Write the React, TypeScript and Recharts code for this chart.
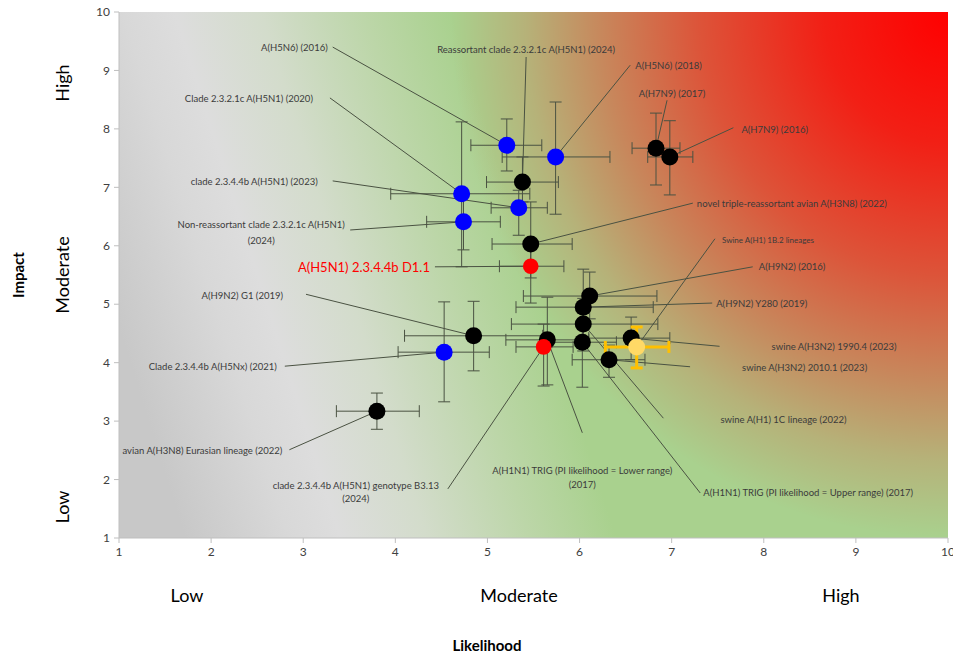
import React from "react";
import {
  Customized,
  ErrorBar,
  ReferenceArea,
  ReferenceLine,
  Scatter,
  ScatterChart,
  XAxis,
  YAxis,
} from "recharts";

const VIRUSES = [
  "A(H5N6) (2016)",
  "A(H5N6) (2018)",
  "Clade 2.3.2.1c A(H5N1) (2020)",
  "clade 2.3.4.4b A(H5N1) (2023)",
  "Clade 2.3.4.4b A(H5Nx) (2021)",
  "Non-reassortant clade 2.3.2.1c A(H5N1) (2024)",
  "Reassortant clade 2.3.2.1c A(H5N1) (2024)",
  "A(H7N9)  (2017)",
  "A(H7N9) (2016)",
  "novel triple-reassortant avian A(H3N8) (2022)",
  "A(H9N2) (2016)",
  "A(H9N2) Y280 (2019)",
  "swine A(H1) 1C lineage (2022)",
  "A(H1N1) TRIG (PI likelihood = Upper range) (2017)",
  "swine A(H3N2) 2010.1 (2023)",
  "swine A(H3N2) 1990.4 (2023)",
  "A(H1N1) TRIG (PI likelihood = Lower range) (2017)",
  "A(H9N2) G1 (2019)",
  "avian A(H3N8) Eurasian lineage (2022)",
  "A(H5N1) 2.3.4.4b D1.1",
  "clade 2.3.4.4b A(H5N1) genotype B3.13 (2024)",
  "Swine A(H1) 1B.2 lineages",
];

const GROUP = [
  "blue", "blue", "blue", "blue", "blue", "blue",
  "black", "black", "black", "black", "black", "black", "black", "black",
  "black", "black", "black", "black", "black",
  "red", "red", "yellow",
];

const LIKELIHOOD = [5.21, 5.74, 4.72, 5.34, 4.53, 4.74, 5.38, 6.83, 6.98, 5.47, 6.11, 6.04, 6.04, 6.03, 6.32, 6.56, 5.65, 4.85, 3.8, 5.47, 5.61, 6.62];
const LIKELIHOOD_LOW = [4.82, 5.16, 3.95, 5.04, 4.03, 4.34, 4.99, 6.57, 6.74, 5.05, 5.39, 5.31, 5.26, 5.7, 5.92, 6.1, 5.2, 4.1, 3.36, 5.13, 5.31, 6.28];
const LIKELIHOOD_HIGH = [5.59, 6.33, 5.46, 5.65, 5.02, 5.14, 5.77, 7.09, 7.23, 5.92, 6.84, 6.8, 6.85, 6.4, 6.71, 6.98, 6.1, 5.6, 4.26, 5.83, 5.93, 6.97];

const IMPACT = [7.72, 7.52, 6.89, 6.65, 4.18, 6.41, 7.09, 7.67, 7.52, 6.03, 5.14, 4.95, 4.66, 4.35, 4.05, 4.42, 4.39, 4.46, 3.17, 5.65, 4.27, 4.27];
const IMPACT_LOW = [7.28, 6.54, 5.64, 6.18, 3.33, 5.93, 6.75, 7.04, 6.87, 5.45, 4.75, 4.4, 4.2, 3.58, 3.75, 4.05, 3.62, 3.86, 2.86, 5.02, 3.6, 3.91];
const IMPACT_HIGH = [8.17, 8.46, 8.12, 6.95, 5.04, 6.9, 7.52, 8.27, 8.14, 6.75, 5.55, 5.6, 5.1, 4.9, 4.3, 4.78, 5.12, 5.05, 3.48, 6.0, 4.66, 4.61];

const TICKS = [1, 2, 3, 4, 5, 6, 7, 8, 9, 10];
const LEVELS = ["Low", "Moderate", "High"];

// where each leader line starts (chart units) and how its text sits
const LABEL_AT = [
  [3.32, 9.4], [6.55, 9.09], [3.29, 8.53], [3.32, 7.11], [2.8, 3.94], [3.51, 6.27],
  [5.42, 9.23], [6.95, 8.49], [7.67, 8.02], [7.23, 6.73], [7.88, 5.64], [7.44, 5.02],
  [6.91, 3.05], [7.31, 1.77], [7.2, 3.93], [7.52, 4.28], [6.03, 2.8], [3.03, 5.17],
  [2.85, 2.51], [4.43, 5.64], [4.57, 1.84], [7.47, 6.12],
];
const LABEL_STYLE: { anchor: string; dx: number; dy: number; lines?: string[]; size?: number; color?: string; gap?: number }[] = [
  { anchor: "end", dx: -5, dy: 0 },
  { anchor: "start", dx: 5, dy: 0 },
  { anchor: "end", dx: -17, dy: 1 },
  { anchor: "end", dx: -15, dy: 1 },
  { anchor: "end", dx: -8, dy: 0 },
  { anchor: "middle", dx: -89, dy: -5, lines: ["Non-reassortant clade 2.3.2.1c A(H5N1)", "(2024)"], gap: 16 },
  { anchor: "middle", dx: 0, dy: -8 },
  { anchor: "middle", dx: 5, dy: -7 },
  { anchor: "start", dx: 8, dy: 2 },
  { anchor: "start", dx: 4, dy: 0 },
  { anchor: "start", dx: 6, dy: 0 },
  { anchor: "start", dx: 4, dy: 0 },
  { anchor: "start", dx: 57, dy: 1 },
  { anchor: "start", dx: 3, dy: 0 },
  { anchor: "start", dx: 52, dy: 1 },
  { anchor: "start", dx: 52, dy: 0 },
  { anchor: "middle", dx: 0, dy: 38, lines: ["A(H1N1) TRIG (PI likelihood = Lower range)", "(2017)"], gap: 14 },
  { anchor: "end", dx: -23, dy: 1 },
  { anchor: "end", dx: -7, dy: 1 },
  { anchor: "end", dx: -5, dy: 0, size: 13, color: "#ff0000" },
  { anchor: "middle", dx: -92, dy: -3, lines: ["clade 2.3.4.4b A(H5N1) genotype B3.13", "(2024)"], gap: 13 },
  { anchor: "start", dx: 7, dy: 1, size: 8 },
];

const FILLS: Record<string, string> = {
  blue: "#0000ff",
  black: "#000000",
  red: "#ff0000",
  yellow: "#ffd966",
};

const points = VIRUSES.map((name, i) => ({
  name,
  group: GROUP[i],
  x: LIKELIHOOD[i],
  y: IMPACT[i],
  ex: [LIKELIHOOD[i] - LIKELIHOOD_LOW[i], LIKELIHOOD_HIGH[i] - LIKELIHOOD[i]],
  ey: [IMPACT[i] - IMPACT_LOW[i], IMPACT_HIGH[i] - IMPACT[i]],
}));

const labels = VIRUSES.map((name, i) => ({
  name,
  x: LABEL_AT[i][0],
  y: LABEL_AT[i][1],
  idx: i,
}));

const TEXT = "#3b3b3b";
const LEADER = "#4a5242";

function dotShape(props: any) {
  const { cx, cy, payload } = props;
  const r = payload.group === "red" ? 7.8 : 8.5;
  return <circle cx={cx} cy={cy} r={r} fill={FILLS[payload.group]} />;
}

function labelShape(props: any) {
  const { cx, cy, payload } = props;
  const s = LABEL_STYLE[payload.idx];
  const lines = s.lines || [payload.name];
  return (
    <text
      x={cx + s.dx}
      y={cy + s.dy}
      textAnchor={s.anchor}
      fontSize={s.size || 9.5}
      fill={s.color || TEXT}
    >
      {lines.map((l, k) => (
        <tspan key={k} x={cx + s.dx} y={cy + s.dy + k * (s.gap || 14)} dominantBaseline="central">
          {l}
        </tspan>
      ))}
    </text>
  );
}

function Extras() {
  return (
    <g>
      <text x={18} y={275} transform="rotate(-90 18 275)" textAnchor="middle" dominantBaseline="central" fontSize={15} fontWeight="bold" fill="#000">
        Impact
      </text>
      {LEVELS.map((l, i) => {
        const y = [507, 275, 83][i];
        return (
          <text key={l} x={62} y={y} transform={`rotate(-90 62 ${y})`} textAnchor="middle" dominantBaseline="central" fontSize={18} fill="#000">
            {l}
          </text>
        );
      })}
      {LEVELS.map((l, i) => (
        <text key={l} x={[187, 519, 841][i]} y={595} textAnchor="middle" dominantBaseline="central" fontSize={18} fill="#000">
          {l}
        </text>
      ))}
      <text x={487} y={645} textAnchor="middle" dominantBaseline="central" fontSize={15} fontWeight="bold" fill="#000">
        Likelihood
      </text>
    </g>
  );
}

export default function App() {
  const groups = ["blue", "black", "red", "yellow"];
  return (
    <div style={{ position: "absolute", left: 0, top: 0, width: 953, height: 654, overflow: "hidden", background: "#fff", fontFamily: "Lato, sans-serif" }}>
      <svg width={0} height={0} style={{ position: "absolute" }}>
        <defs>
          <linearGradient id="bgBase" x1="0" y1="0.6" x2="1" y2="0.4">
            <stop offset="0" stopColor="#c8c8c8" />
            <stop offset="0.12" stopColor="#d8d8d8" />
            <stop offset="0.18" stopColor="#dddddd" />
            <stop offset="0.28" stopColor="#d3dccb" />
            <stop offset="0.4" stopColor="#bcd6a8" />
            <stop offset="0.5" stopColor="#a9d18e" />
            <stop offset="1" stopColor="#a9d18e" />
          </linearGradient>
          <radialGradient id="bgRed" cx="1" cy="0" r="1" gradientTransform="translate(1 0) scale(0.6 1) translate(-1 0)">
            <stop offset="0" stopColor="#ff0000" stopOpacity={1} />
            <stop offset="0.25" stopColor="#ff0000" stopOpacity={0.85} />
            <stop offset="0.5" stopColor="#ff0000" stopOpacity={0.6} />
            <stop offset="0.7" stopColor="#ff0000" stopOpacity={0.35} />
            <stop offset="0.85" stopColor="#ff0000" stopOpacity={0.15} />
            <stop offset="1" stopColor="#ff0000" stopOpacity={0} />
          </radialGradient>
        </defs>
      </svg>
      <ScatterChart width={953} height={654} margin={{ top: 12, right: 5, bottom: 0, left: 0 }}>
        <XAxis
          type="number"
          dataKey="x"
          domain={[1, 10]}
          ticks={TICKS}
          allowDataOverflow
          height={116}
          stroke="#bfbfbf"
          tickSize={5}
          tickMargin={4}
          tick={{ fontSize: 12, fill: "#404040" }}
          interval={0}
        />
        <YAxis
          type="number"
          dataKey="y"
          domain={[1, 10]}
          ticks={TICKS}
          allowDataOverflow
          width={119}
          stroke="#bfbfbf"
          tickSize={5}
          tickMargin={4}
          tick={{ fontSize: 12, fill: "#404040" }}
          interval={0}
        />
        <ReferenceArea x1={1} x2={10} y1={1} y2={10} fill="url(#bgBase)" fillOpacity={1} stroke="none" />
        <ReferenceArea x1={1} x2={10} y1={1} y2={10} fill="url(#bgRed)" fillOpacity={1} stroke="none" />
        {labels.map((l) => (
          <ReferenceLine
            key={l.name}
            segment={[
              { x: l.x, y: l.y },
              { x: LIKELIHOOD[l.idx], y: IMPACT[l.idx] },
            ]}
            stroke={LEADER}
            strokeWidth={1}
          />
        ))}
        {groups.map((g) => (
          <Scatter
            key={g}
            data={points.filter((p) => p.group === g)}
            shape={dotShape}
            isAnimationActive={false}
          >
            <ErrorBar
              dataKey="ex"
              direction="x"
              width={6}
              stroke={g === "yellow" ? "#ffc000" : LEADER}
              strokeWidth={g === "yellow" ? 3 : 1}
              isAnimationActive={false}
            />
            <ErrorBar
              dataKey="ey"
              direction="y"
              width={6}
              stroke={g === "yellow" ? "#ffc000" : LEADER}
              strokeWidth={g === "yellow" ? 3 : 1}
              isAnimationActive={false}
            />
          </Scatter>
        ))}
        <Scatter data={labels} shape={labelShape} isAnimationActive={false} />
        <Customized component={<Extras />} />
      </ScatterChart>
    </div>
  );
}
